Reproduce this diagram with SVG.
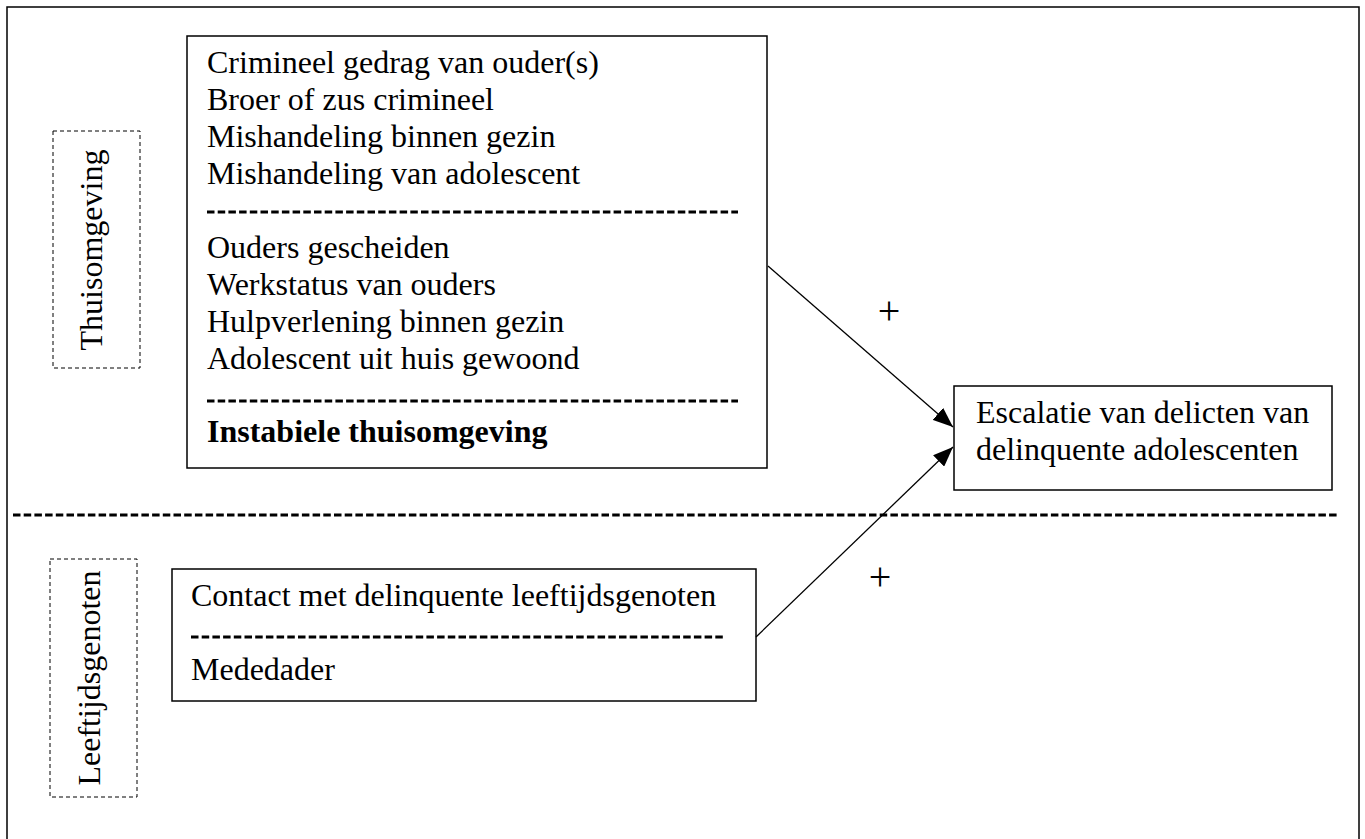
<svg xmlns="http://www.w3.org/2000/svg" width="1365" height="839" viewBox="0 0 1365 839">
<style>
  .t { font-family: "Liberation Serif", "Times New Roman", serif; font-size: 32px; fill: #000; }
  .b { font-weight: bold; }
  .plus { font-family: "Liberation Serif", "Times New Roman", serif; font-size: 40px; font-weight: 300; fill: #000; }
  .box { fill: #fff; stroke: #000; stroke-width: 1.5; }
  .dbox { fill: none; stroke: #000; stroke-width: 1; stroke-dasharray: 4 3; }
  .sep { stroke: #000; stroke-width: 3; stroke-dasharray: 7.5 3.2; fill: none; }
  .conn { stroke: #000; stroke-width: 1.3; fill: none; marker-end: url(#arr); }
</style>
<defs>
  <marker id="arr" viewBox="0 0 20 16" refX="20" refY="8" markerWidth="20" markerHeight="16" markerUnits="userSpaceOnUse" orient="auto">
    <path d="M0,0 L20,8 L0,16 z" fill="#000"/>
  </marker>
</defs>
<rect x="0" y="0" width="1365" height="839" fill="#fff"/>
<rect id="frame" x="7" y="7" width="1352" height="850" fill="none" stroke="#000" stroke-width="1.5"/>
<line id="divider" class="sep" x1="13" y1="515" x2="1337" y2="515"/>

<g id="thuisomgeving-label">
  <rect class="dbox" x="53" y="131" width="87" height="237"/>
  <text class="t" text-anchor="middle" transform="translate(102,250) rotate(-90)">Thuisomgeving</text>
</g>

<g id="thuis-factors">
  <rect class="box" x="187" y="36" width="580" height="432"/>
  <text class="t" x="207" y="73">Crimineel gedrag van ouder(s)</text>
  <text class="t" x="207" y="110">Broer of zus crimineel</text>
  <text class="t" x="207" y="147">Mishandeling binnen gezin</text>
  <text class="t" x="207" y="184">Mishandeling van adolescent</text>
  <line class="sep" x1="207" y1="212" x2="738" y2="212"/>
  <text class="t" x="207" y="258">Ouders gescheiden</text>
  <text class="t" x="207" y="295">Werkstatus van ouders</text>
  <text class="t" x="207" y="332">Hulpverlening binnen gezin</text>
  <text class="t" x="207" y="369">Adolescent uit huis gewoond</text>
  <line class="sep" x1="207" y1="401" x2="738" y2="401"/>
  <text class="t b" x="207" y="442">Instabiele thuisomgeving</text>
</g>

<g id="leeftijdsgenoten-label">
  <rect class="dbox" x="50" y="559" width="87" height="238"/>
  <text class="t" text-anchor="middle" transform="translate(100,678) rotate(-90)">Leeftijdsgenoten</text>
</g>

<g id="peer-factors">
  <rect class="box" x="172" y="569" width="584" height="132"/>
  <text class="t" x="191" y="606">Contact met delinquente leeftijdsgenoten</text>
  <line class="sep" x1="191" y1="637" x2="723" y2="637"/>
  <text class="t" x="191" y="680">Mededader</text>
</g>

<g id="escalatie">
  <rect class="box" x="954" y="386" width="378" height="104"/>
  <text class="t" x="976" y="423">Escalatie van delicten van</text>
  <text class="t" x="976" y="460">delinquente adolescenten</text>
</g>

<g id="connectors">
  <line class="conn" x1="768" y1="266" x2="953" y2="427"/>
  <text class="plus" x="889" y="324" text-anchor="middle">+</text>
  <line class="conn" x1="756" y1="637" x2="953" y2="447"/>
  <text class="plus" x="880" y="590" text-anchor="middle">+</text>
</g>
</svg>
